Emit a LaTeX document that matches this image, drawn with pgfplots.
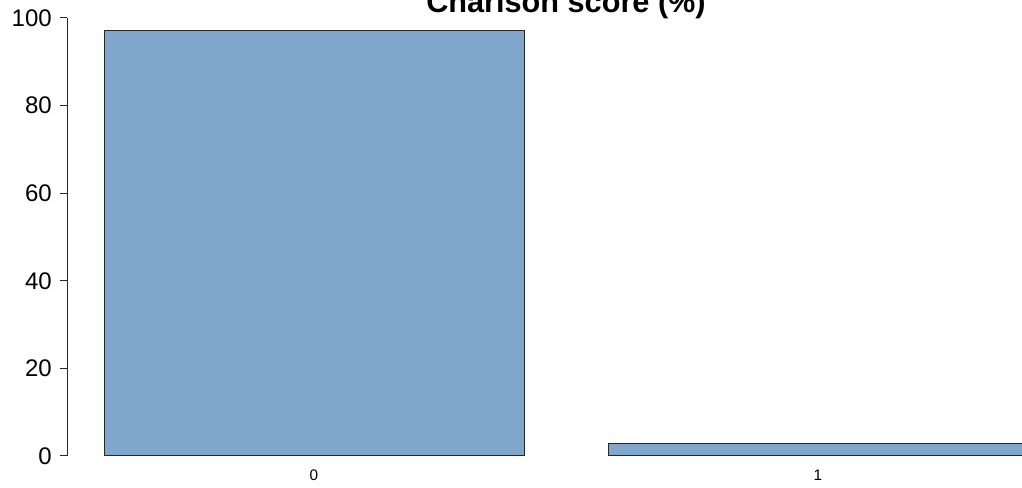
\documentclass[border=0pt]{standalone}
\usepackage{fontspec}
\setmainfont{Liberation Sans}
\usepackage{pgfplots}
\pgfplotsset{compat=1.18}
\definecolor{barblue}{RGB}{128,166,203}
\begin{document}
\begin{tikzpicture}
\clip (0,-24pt) rectangle (766.5pt,342pt);
\begin{axis}[
  at={(0,0)}, anchor=south west,
  scale only axis, width=766.5pt, height=342pt,
  xmin=-0.047619, xmax=2.385714, ymin=0, ymax=104.11,
  clip=false,
  axis x line*=bottom, axis y line=none,
  x axis line style={draw=none},
  xtick={0.7,1.9}, xticklabels={0,1},
  major tick length=0pt,
  xticklabel style={font=\fontsize{11.5}{13}\selectfont, anchor=center, yshift=-14.6pt, inner sep=0pt},
  ybar, bar width=1,
]
\addplot[fill=barblue, draw=black!85, line width=0.75pt] coordinates {(0.7,97.1) (1.9,2.9)};
\node[font=\bfseries\fontsize{23}{28}\selectfont, anchor=base, inner sep=0pt] at (axis cs:1.3,101.25) {Charlson score (\%)};
\end{axis}
\begin{axis}[
  at={(50.25pt,0pt)}, anchor=south west,
  scale only axis, width=10pt, height=328.5pt,
  xmin=0, xmax=1, ymin=0, ymax=100,
  hide x axis, axis y line*=left,
  y axis line style={black!85, line width=0.75pt},
  ytick={0,20,40,60,80,100},
  tick align=outside, major tick length=5.25pt,
  ytick style={black!85, line width=0.75pt},
  yticklabel style={font=\fontsize{18}{21}\selectfont, /pgf/number format/assume math mode=true, anchor=east, inner sep=0pt, xshift=-6pt},
]
\end{axis}
\end{tikzpicture}
\end{document}
